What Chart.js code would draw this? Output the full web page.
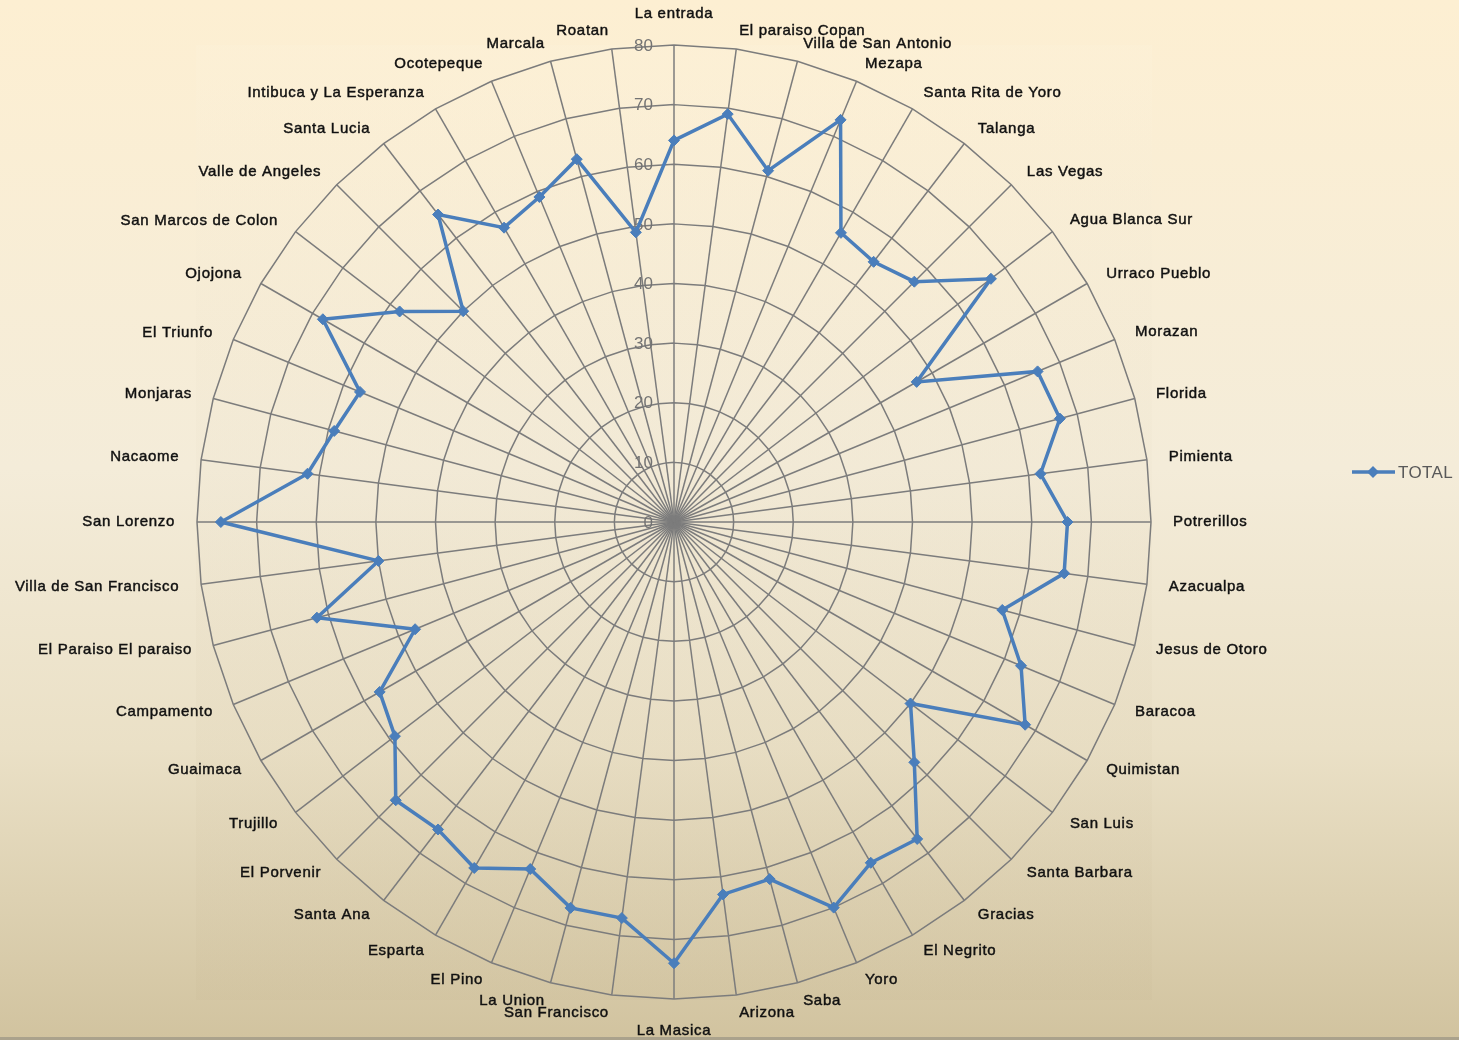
<!DOCTYPE html>
<html lang="es">
<head>
<meta charset="UTF-8">
<title>TOTAL por municipio</title>
<script src="https://cdn.jsdelivr.net/npm/chart.js"></script>
<style>
  body { margin: 0; background: #f3ebd8; overflow: hidden; }
  .wrap { position: relative; width: 1459px; height: 1040px; }
</style>
</head>
<body>
<div class="wrap">
  <canvas id="radar"></canvas>
</div>
<script>
const municipios = [
  'La entrada', 'El paraiso Copan', 'Villa de San Antonio', 'Mezapa', 'Santa Rita de Yoro',
  'Talanga', 'Las Vegas', 'Agua Blanca Sur', 'Urraco Pueblo', 'Morazan', 'Florida',
  'Pimienta', 'Potrerillos', 'Azacualpa', 'Jesus de Otoro', 'Baracoa', 'Quimistan',
  'San Luis', 'Santa Barbara', 'Gracias', 'El Negrito', 'Yoro', 'Saba', 'Arizona',
  'La Masica', 'San Francisco', 'La Union', 'El Pino', 'Esparta', 'Santa Ana',
  'El Porvenir', 'Trujillo', 'Guaimaca', 'Campamento', 'El Paraiso El paraiso',
  'Villa de San Francisco', 'San Lorenzo', 'Nacaome', 'Monjaras', 'El Triunfo',
  'Ojojona', 'San Marcos de Colon', 'Valle de Angeles', 'Santa Lucia',
  'Intibuca y La Esperanza', 'Ocotepeque', 'Marcala', 'Roatan'
];
const total = [
  64, 69, 61, 73, 56, 55, 57, 67, 47, 66, 67,
  62, 66, 66, 57, 63, 68, 50, 57, 67, 66, 70, 62, 63,
  74, 67, 67, 63, 67, 65, 66, 59, 57, 47, 62,
  50, 76, 62, 59, 57, 68, 58, 50, 65, 57, 59, 63, 49
];
const tickValues = [0, 10, 20, 30, 40, 50, 60, 70, 80];

const blue = '#4a7ebb';
const gridGray = '#7c7c7c';

// background, tick labels, point labels and legend drawn around the radial scale
const decor = {
  id: 'decor',
  beforeDraw(chart) {
    const ctx = chart.ctx;
    const w = chart.width, h = chart.height;
    const g = ctx.createLinearGradient(0, 0, 0, h);
    g.addColorStop(0, '#fdefd2');
    g.addColorStop(0.45, '#f4ecd9');
    g.addColorStop(0.72, '#eae0c6');
    g.addColorStop(1, '#d1c39f');
    ctx.save();
    ctx.fillStyle = g;
    ctx.fillRect(0, 0, w, h);
    const a = chart.chartArea;
    const g2 = ctx.createLinearGradient(0, a.top, 0, a.bottom);
    g2.addColorStop(0, 'rgba(255,250,235,0.10)');
    g2.addColorStop(1, 'rgba(170,150,110,0.05)');
    ctx.fillStyle = g2;
    ctx.fillRect(a.left - 1, a.top, a.right - a.left + 2, a.bottom - a.top + 1);
    ctx.fillStyle = '#aaa28c';
    ctx.fillRect(0, h - 3, w, 3);
    ctx.restore();
  },
  beforeDatasetsDraw(chart) {
    const ctx = chart.ctx;
    const s = chart.scales.r;
    ctx.save();
    ctx.font = '17px "Liberation Sans", Arial, sans-serif';
    ctx.fillStyle = '#737373';
    ctx.textAlign = 'right';
    ctx.textBaseline = 'middle';
    tickValues.forEach(v => {
      const d = s.getDistanceFromCenterForValue(v);
      ctx.fillText(String(v), s.xCenter - 21, s.yCenter - d + 1);
    });
    ctx.restore();
  },
  afterDraw(chart) {
    const ctx = chart.ctx;
    const s = chart.scales.r;
    const n = municipios.length;
    ctx.save();
    ctx.font = '15px "Liberation Sans", Arial, sans-serif';
    ctx.letterSpacing = '0.7px';
    ctx.fillStyle = '#111111';
    ctx.strokeStyle = '#111111';
    ctx.lineWidth = 0.45;
    municipios.forEach((lab, i) => {
      const p = s.getPointPosition(i, s.drawingArea + 22);
      const deg = Math.round(i * 360 / n);
      const th = deg * Math.PI / 180;
      ctx.textAlign = (deg === 0 || deg === 180) ? 'center' : (deg < 180 ? 'left' : 'right');
      ctx.textBaseline = deg === 0 ? 'bottom' : (deg === 180 ? 'top' : 'middle');
      let y = p.y + 3.5 * Math.cos(th);
      if (deg === 0) y = p.y - 2;
      if (deg === 180) y = p.y + 2;
      ctx.fillText(lab, p.x, y);
      ctx.strokeText(lab, p.x, y);
    });

    // legend
    const ds = chart.data.datasets[0];
    const ly = 472;
    ctx.strokeStyle = ds.borderColor;
    ctx.lineWidth = 3.5;
    ctx.beginPath();
    ctx.moveTo(1352, ly);
    ctx.lineTo(1395, ly);
    ctx.stroke();
    ctx.fillStyle = ds.borderColor;
    ctx.beginPath();
    ctx.moveTo(1373, ly - 6);
    ctx.lineTo(1379, ly);
    ctx.lineTo(1373, ly + 6);
    ctx.lineTo(1367, ly);
    ctx.closePath();
    ctx.fill();
    ctx.font = '17px "Liberation Sans", Arial, sans-serif';
    ctx.letterSpacing = '0.4px';
    ctx.fillStyle = '#595959';
    ctx.textAlign = 'left';
    ctx.textBaseline = 'middle';
    ctx.fillText(ds.label, 1398, ly + 1);
    ctx.restore();
  }
};

new Chart(document.getElementById('radar'), {
  type: 'radar',
  data: {
    labels: municipios,
    datasets: [{
      label: 'TOTAL',
      data: total,
      borderColor: blue,
      backgroundColor: blue,
      borderWidth: 3.5,
      fill: false,
      tension: 0,
      pointStyle: 'rectRot',
      pointRadius: 5.5,
      pointHoverRadius: 5.5,
      pointBackgroundColor: blue,
      pointBorderColor: blue,
      pointBorderWidth: 1
    }]
  },
  options: {
    responsive: true,
    maintainAspectRatio: false,
    animation: false,
    layout: { padding: { left: 197, top: 45, right: 308, bottom: 41 } },
    plugins: {
      legend: { display: false },
      tooltip: { enabled: false }
    },
    scales: {
      r: {
        min: 0,
        max: 80,
        ticks: { stepSize: 10, display: false },
        pointLabels: { display: false },
        grid: { color: gridGray, lineWidth: 1.5 },
        angleLines: { color: gridGray, lineWidth: 1.5 }
      }
    }
  },
  plugins: [decor]
});
</script>
</body>
</html>
